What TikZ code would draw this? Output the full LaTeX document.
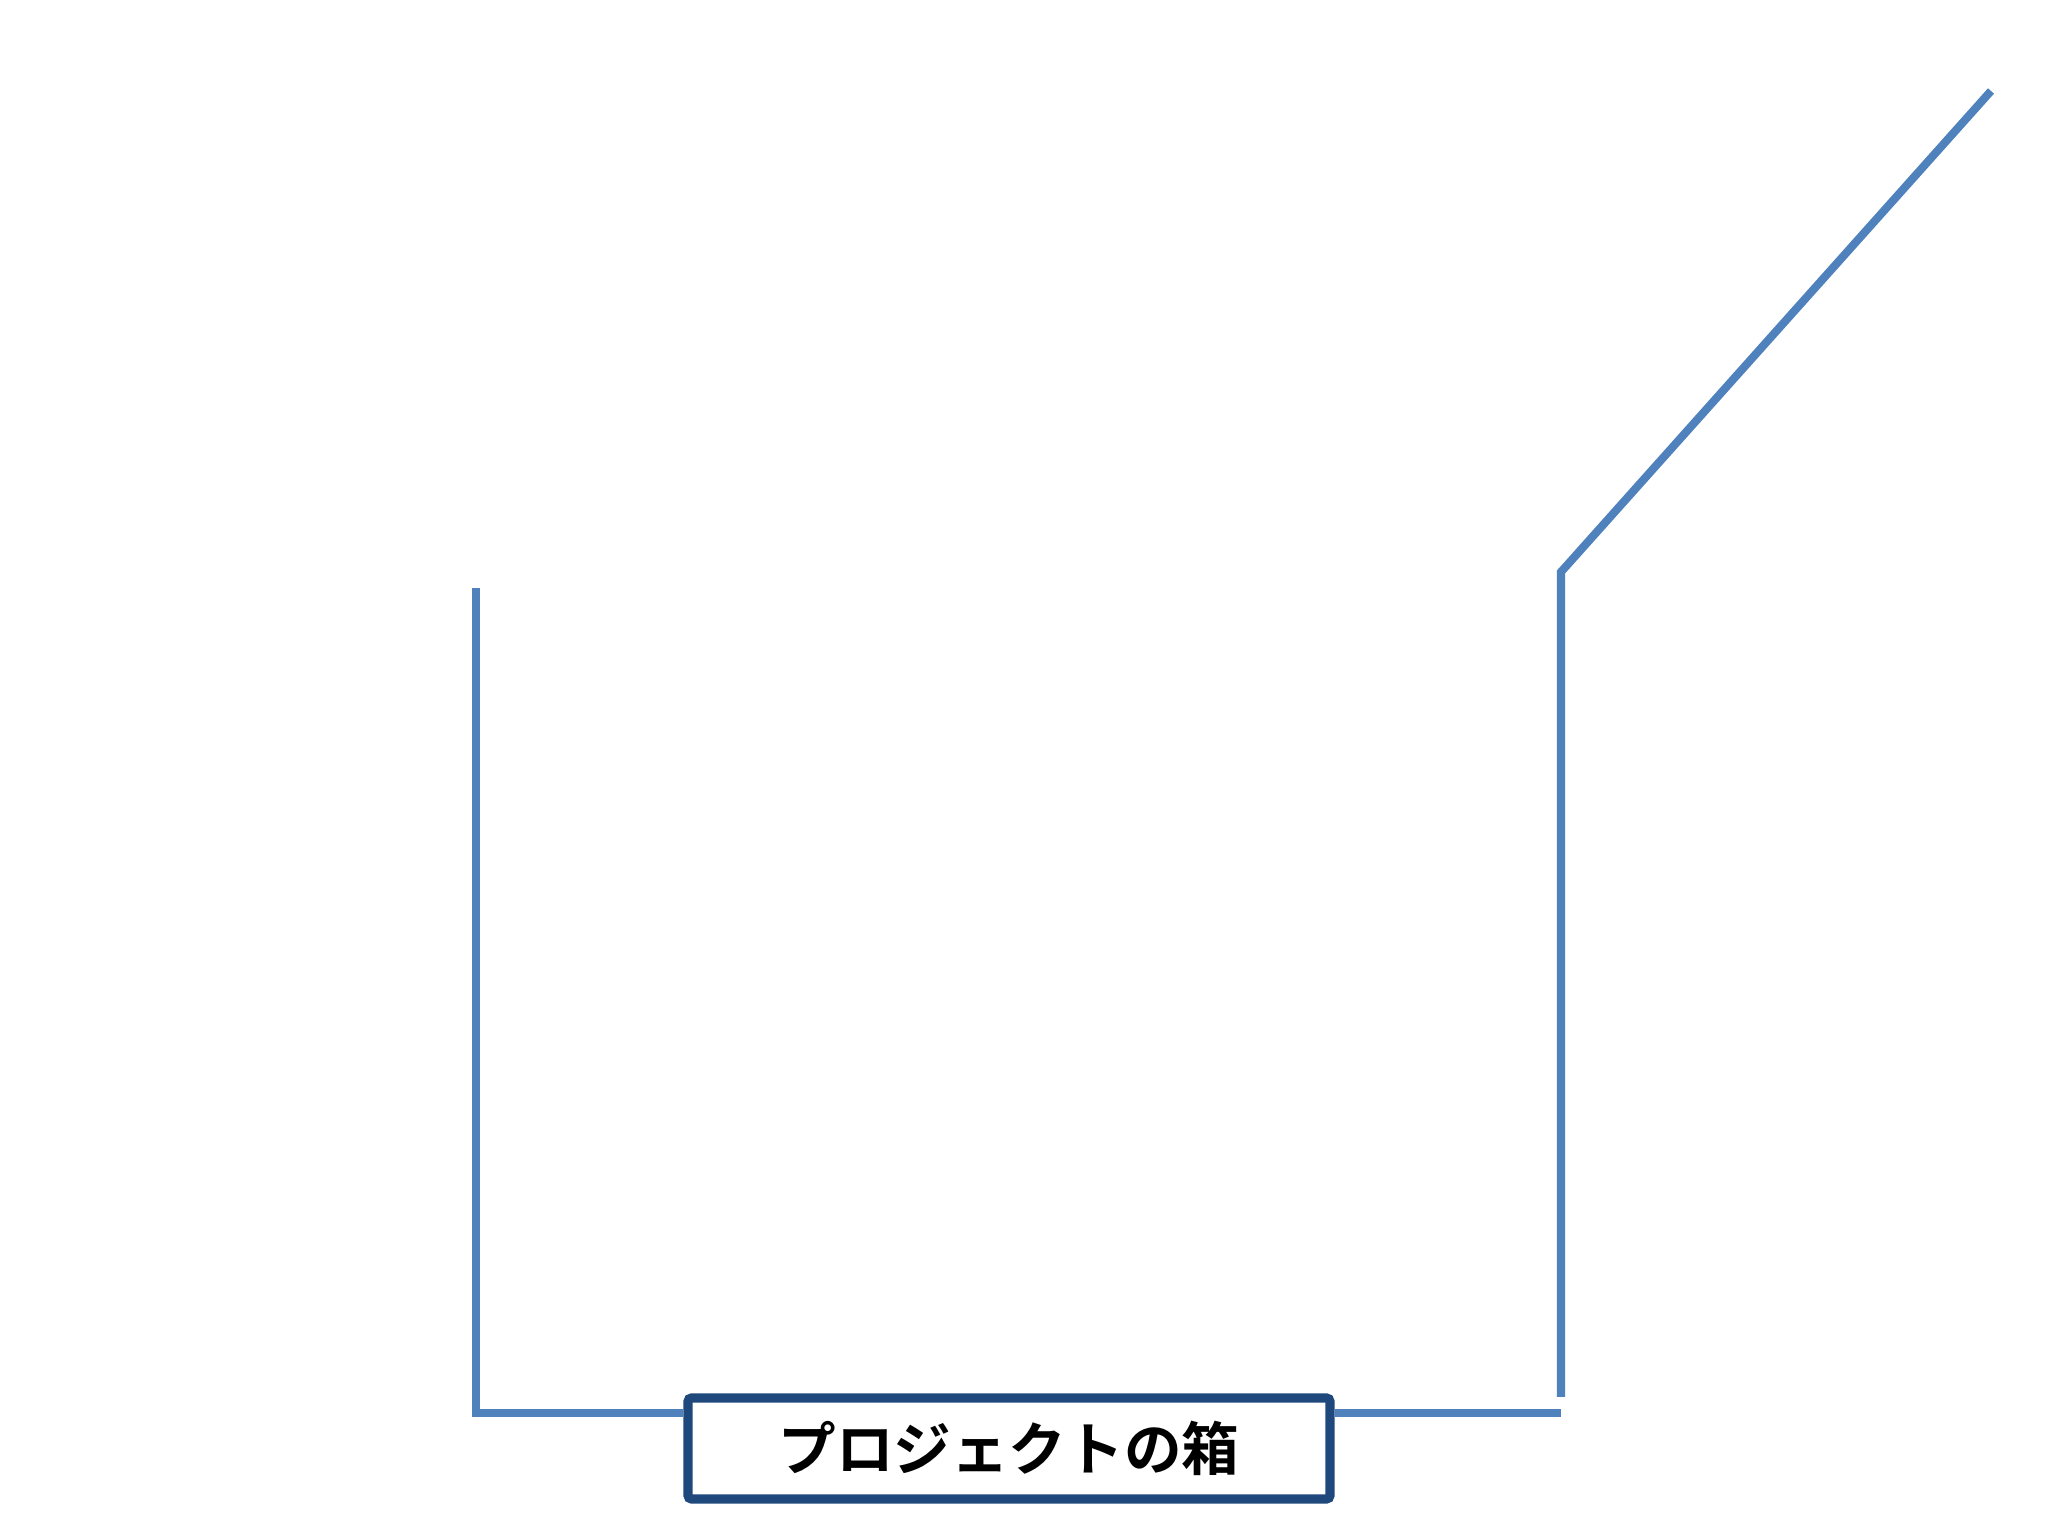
\documentclass[tikz,border=0pt]{standalone}
\usepackage{fontspec}
\newfontfamily\jpfont{Noto Sans CJK JP}[BoldFont=* Bold]
\usetikzlibrary{positioning}
\definecolor{lineblue}{HTML}{4F81BD}
\definecolor{boxblue}{HTML}{1F497D}

\begin{document}
\begin{tikzpicture}[
    wall/.style={draw=lineblue, line width=2.3pt},
    label box/.style={draw=boxblue, line width=2.6pt, fill=white, rounded corners=1pt,
        minimum width=6.42cm, minimum height=1.01cm,
        font=\jpfont\bfseries\fontsize{16.4pt}{19pt}\selectfont}
]
    \useasboundingbox (0,0) rectangle (20.48,15.36);

    \node[label box] (box) at (10.09,0.875) {\raisebox{-0.8ex}{プロジェクトの箱}};

    \coordinate (ltop) at (4.76,9.48);
    \coordinate (lcorner) at (4.76,1.23);
    \coordinate (rbottom) at (15.61,1.39);
    \coordinate (rcorner) at (15.61,1.23);
    \coordinate (rtop) at (15.61,9.64);
    \coordinate (rtip) at (19.91,14.45);

    \draw[wall] (ltop) -- (lcorner) -- (lcorner -| box.west);
    \draw[wall] (rcorner -| box.east) -- (rcorner);
    \draw[wall] (rbottom) -- (rtop) -- (rtip);

\end{tikzpicture}
\end{document}
